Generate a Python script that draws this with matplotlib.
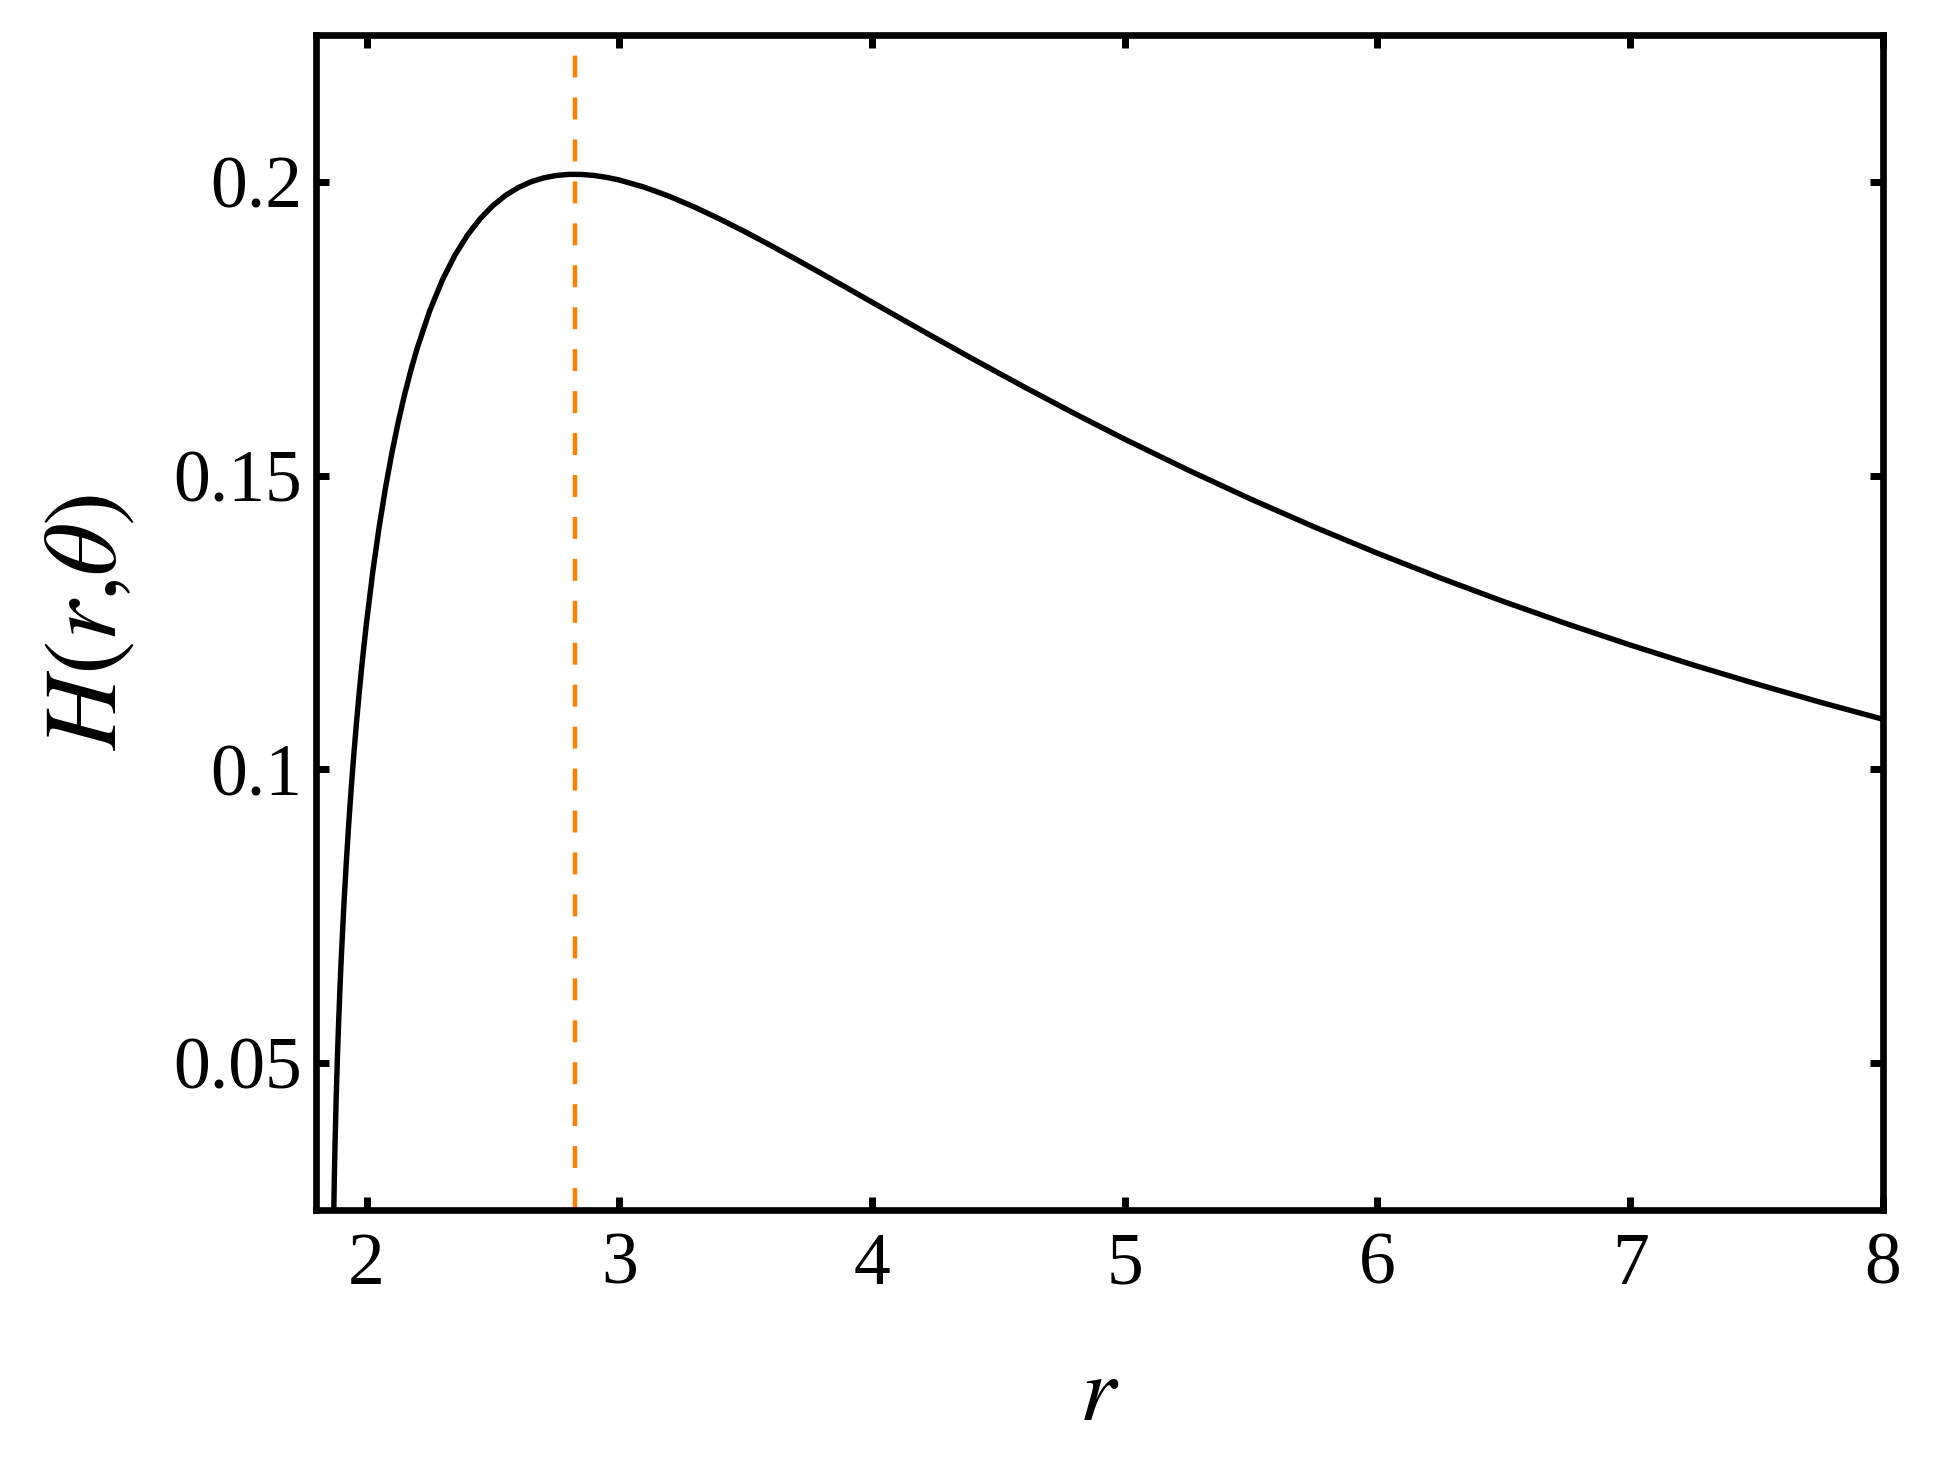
import matplotlib
matplotlib.use("Agg")
import matplotlib.pyplot as plt

# значения кривой H(r, theta)
r_vals = [1.87, 1.8725, 1.875, 1.88, 1.885, 1.89, 1.895, 1.90, 1.91, 1.92,
          1.93, 1.94, 1.95, 1.96, 1.97, 1.98, 1.99, 2.0, 2.025, 2.05, 2.075,
          2.1, 2.125, 2.15, 2.175, 2.2, 2.25, 2.3, 2.35, 2.4, 2.45, 2.5, 2.55,
          2.6, 2.65, 2.7, 2.75, 2.8, 2.85, 2.9, 2.95, 3.0, 3.1, 3.2, 3.3, 3.4,
          3.5, 3.6, 3.7, 3.8, 3.9, 4.0, 4.1, 4.2, 4.4, 4.6, 4.8, 5.0, 5.25,
          5.5, 5.75, 6.0, 6.25, 6.5, 6.75, 7.0, 7.25, 7.5, 7.75, 8.0]
h_vals = [0.02376, 0.03026, 0.03556, 0.04420, 0.05130, 0.05744, 0.06290,
          0.06785, 0.07660, 0.08422, 0.09100, 0.09712, 0.10270, 0.10783,
          0.11258, 0.11700, 0.12113, 0.12500, 0.13371, 0.14128, 0.14792,
          0.15379, 0.15902, 0.16369, 0.16787, 0.17162, 0.17805, 0.18328,
          0.18753, 0.19097, 0.19375, 0.19596, 0.19769, 0.19902, 0.20000,
          0.20067, 0.20108, 0.20127, 0.20126, 0.20109, 0.20076, 0.20031,
          0.19908, 0.19750, 0.19566, 0.19362, 0.19145, 0.18916, 0.18680,
          0.18440, 0.18197, 0.17952, 0.17707, 0.17464, 0.16983, 0.16514,
          0.16059, 0.15620, 0.15096, 0.14598, 0.14126, 0.13679, 0.13256,
          0.12855, 0.12476, 0.12117, 0.11776, 0.11453, 0.11145, 0.10853]

# положение максимума (штриховая линия)
r_peak = 2.823

x_ticks = [2, 3, 4, 5, 6, 7, 8]
y_ticks = [0.05, 0.1, 0.15, 0.2]
y_tick_labels = ["0.05", "0.1", "0.15", "0.2"]

plt.rcParams['font.family'] = ['Liberation Serif', 'DejaVu Serif']
plt.rcParams['mathtext.fontset'] = 'stix'
plt.rcParams['lines.scale_dashes'] = False

fig = plt.figure(figsize=(19.35, 14.69), dpi=100)
ax = fig.add_axes([0.1633, 0.1763, 0.9731 - 0.1633, 0.9762 - 0.1763])

ax.plot(r_vals, h_vals, color='black', lw=3.9, solid_joinstyle='round')
ax.plot([r_peak, r_peak], [0.025, 0.225], color='#ff8000', lw=3.2,
        dashes=(15.8, 14.4))

ax.set_xlim(1.8, 8)
ax.set_ylim(0.025, 0.225)
ax.set_xticks(x_ticks)
ax.set_xticklabels([str(t) for t in x_ticks])
ax.set_yticks(y_ticks)
ax.set_yticklabels(y_tick_labels)

for side in ax.spines.values():
    side.set_linewidth(4.8)

ax.tick_params(direction='in', length=9.5, width=5, labelsize=53,
               top=True, right=True)
ax.tick_params(axis='x', pad=16)
ax.tick_params(axis='y', pad=10)

ax.set_xlabel(r'$r$', fontsize=67, labelpad=40)
ax.set_ylabel(r'$H(r{,}\theta)$', fontsize=74, labelpad=26)

fig.savefig('out.png', dpi=100)
